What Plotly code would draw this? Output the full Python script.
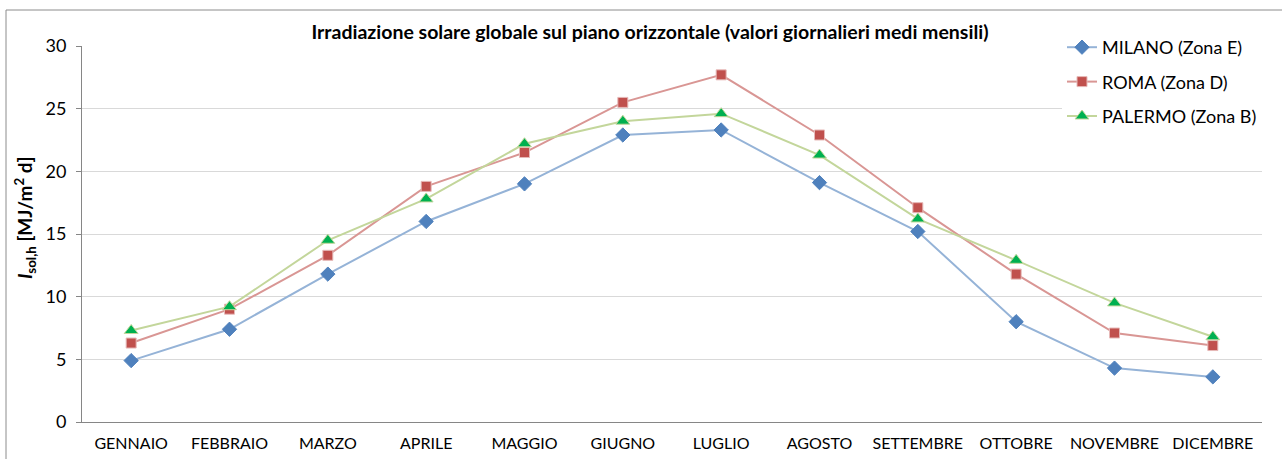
import plotly.graph_objects as go

months = ["GENNAIO", "FEBBRAIO", "MARZO", "APRILE", "MAGGIO", "GIUGNO",
          "LUGLIO", "AGOSTO", "SETTEMBRE", "OTTOBRE", "NOVEMBRE", "DICEMBRE"]
milano = [4.9, 7.4, 11.8, 16.0, 19.0, 22.9, 23.3, 19.1, 15.2, 8.0, 4.3, 3.6]
roma = [6.3, 9.0, 13.3, 18.8, 21.5, 25.5, 27.7, 22.9, 17.1, 11.8, 7.1, 6.1]
palermo = [7.3, 9.2, 14.5, 17.8, 22.2, 24.0, 24.6, 21.3, 16.2, 12.9, 9.5, 6.8]

FONT = "Lato"
W, H = 1282, 459
L, R, T, B = 82, 1262, 46, 422

fig = go.Figure()
series = [
    ("MILANO (Zona E)", milano, "#95B3D7", "#4F81BD", "#4F81BD", "diamond", 11),
    ("ROMA (Zona D)", roma, "#D99694", "#C0504D", "#E6B9B8", "square", 10),
    ("PALERMO (Zona B)", palermo, "#C3D69B", "#00B050", "#C3D69B", "triangle-up", 12),
]
for i, (name, vals, lc, mc, mlc, sym, ms) in enumerate(series):
    fig.add_trace(go.Scatter(
        x=months, y=vals, name=name, mode="lines+markers",
        line=dict(color=lc, width=2),
        marker=dict(symbol=sym, size=ms, color=mc, line=dict(color=mlc, width=1)),
        legendgroup=str(i),
    ))

pw, ph = R - L, B - T
fig.update_layout(
    width=W, height=H,
    margin=dict(l=L, r=W - R, t=T, b=H - B, autoexpand=False),
    paper_bgcolor="white", plot_bgcolor="white",
    font=dict(family=FONT, color="#000000"),
    title=dict(
        text="<b>Irradiazione solare globale sul piano orizzontale (valori giornalieri medi mensili)</b>",
        x=(650 - L) / pw, xref="paper", xanchor="center",
        y=1 - 32 / H, yref="container", yanchor="middle",
        font=dict(family=FONT, size=19.5, color="#000000"),
    ),
    legend=dict(
        x=(1062 - L) / pw, xanchor="left",
        y=1 + (T - 29) / ph, yanchor="top",
        bgcolor="white", borderwidth=0,
        font=dict(family=FONT, size=18, color="#000000"),
        tracegroupgap=8,
    ),
    showlegend=True,
    xaxis=dict(
        type="category", range=[-0.5, 11.5], automargin=False,
        showgrid=False, showline=True, linecolor="#868686", linewidth=1,
        ticks="", ticklabelstandoff=7,
        tickfont=dict(family=FONT, size=16, color="#000000"),
        zeroline=False,
    ),
    yaxis=dict(
        range=[0, 30], dtick=5, showgrid=True, gridcolor="#D9D9D9", gridwidth=1,
        showline=True, linecolor="#868686", linewidth=1, automargin=False,
        ticks="outside", ticklen=5, tickcolor="#868686", ticklabelstandoff=6,
        tickfont=dict(family=FONT, size=18, color="#000000"),
        zeroline=False,
    ),
    annotations=[
        dict(
            text="<b><i>I</i><sub>sol,h</sub> [MJ/m<sup>2</sup> d]</b>",
            xref="paper", yref="paper",
            x=(25 - L) / pw, y=(B - 218) / ph,
            xanchor="center", yanchor="middle",
            textangle=-90, showarrow=False,
            font=dict(family=FONT, size=19, color="#000000"),
        )
    ],
    shapes=[
        dict(type="line", xref="paper", yref="paper",
             x0=(6 - L) / pw, x1=(6 - L) / pw,
             y0=1 + (T - 10) / ph, y1=-(H - B + 5) / ph,
             line=dict(color="#8C8C8C", width=1)),
        dict(type="line", xref="paper", yref="paper",
             x0=(6 - L) / pw, x1=(W + 5 - L) / pw,
             y0=1 + (T - 10) / ph, y1=1 + (T - 10) / ph,
             line=dict(color="#8C8C8C", width=1)),
    ],
)

fig.write_html(
    "out.html",
    config={"displayModeBar": False},
    post_script="document.body.style.margin='0';document.body.style.overflow='hidden';",
)
